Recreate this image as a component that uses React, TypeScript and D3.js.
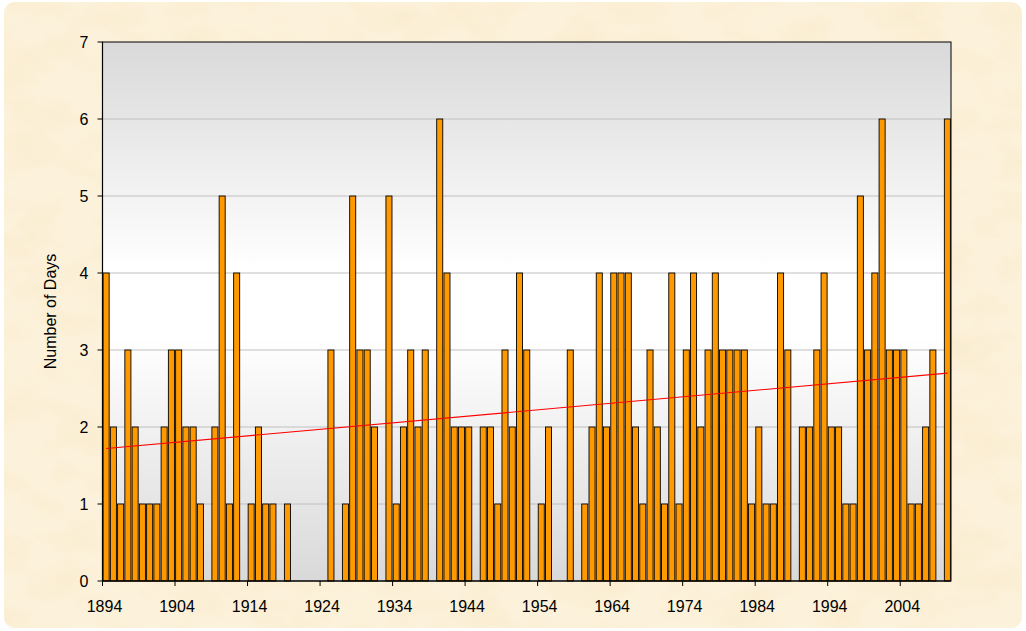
import React from "react";
import * as d3 from "d3";

const years: number[] = d3.range(1894, 2011);
const days: number[] = [
  // 1894-1903
  4, 2, 1, 3, 2, 1, 1, 1, 2, 3,
  // 1904-1913
  3, 2, 2, 1, 0, 2, 5, 1, 4, 0,
  // 1914-1923
  1, 2, 1, 1, 0, 1, 0, 0, 0, 0,
  // 1924-1933
  0, 3, 0, 1, 5, 3, 3, 2, 0, 5,
  // 1934-1943
  1, 2, 3, 2, 3, 0, 6, 4, 2, 2,
  // 1944-1953
  2, 0, 2, 2, 1, 3, 2, 4, 3, 0,
  // 1954-1963
  1, 2, 0, 0, 3, 0, 1, 2, 4, 2,
  // 1964-1973
  4, 4, 4, 2, 1, 3, 2, 1, 4, 1,
  // 1974-1983
  3, 4, 2, 3, 4, 3, 3, 3, 3, 1,
  // 1984-1993
  2, 1, 1, 4, 3, 0, 2, 2, 3, 4,
  // 1994-2003
  2, 2, 1, 1, 5, 3, 4, 6, 3, 3,
  // 2004-2010
  3, 1, 1, 2, 3, 0, 6,
];
// linear trend line, value at first and last year
const trendYears: number[] = [1894, 2010];
const trendValues: number[] = [1.72, 2.7];
const yTicks: number[] = [0, 1, 2, 3, 4, 5, 6, 7];
const xTickYears: number[] = d3.range(1894, 2011, 10);
const yTitle = "Number of Days";

const W = 1026;
const H = 631;
const L = 102.5;
const R = 951;
const T = 42;
const B = 581;

export default function App() {
  const pad = 1 - 1 / 1.2;
  const x = d3
    .scaleBand<number>()
    .domain(years)
    .range([L, R])
    .paddingInner(pad)
    .paddingOuter(pad / 2);
  const y = d3.scaleLinear().domain([0, 7]).range([B, T]);
  const step = x.step();
  const catStart = (yr: number) => (x(yr) as number) - (step * pad) / 2;

  const trend = d3
    .line<number>()
    .x((i) => (x(trendYears[i]) as number) + x.bandwidth() / 2)
    .y((i) => y(trendValues[i]));

  const font = "Arial, 'Liberation Sans', Helvetica, sans-serif";

  return (
    <svg
      width={W}
      height={H}
      style={{ position: "absolute", left: 0, top: 0, display: "block" }}
      fontFamily={font}
    >
      <defs>
        <linearGradient id="plotbg" x1="0" y1="0" x2="0" y2="1">
          <stop offset="0%" stopColor="#d9d9d9" />
          <stop offset="42%" stopColor="#ffffff" />
          <stop offset="55%" stopColor="#ffffff" />
          <stop offset="100%" stopColor="#d9d9d9" />
        </linearGradient>
        <filter id="parch" x="0" y="0" width="100%" height="100%">
          <feTurbulence
            type="fractalNoise"
            baseFrequency="0.018 0.03"
            numOctaves={4}
            seed={7}
            result="noise"
          />
          <feColorMatrix
            in="noise"
            type="matrix"
            values="0 0 0 0 0.95  0 0 0 0 0.84  0 0 0 0 0.62  2.4 0 0 0 -1.0"
            result="tint"
          />
          <feComposite in="tint" in2="SourceGraphic" operator="in" />
        </filter>
        <clipPath id="plotclip">
          <rect x={L} y={T} width={R - L} height={B - T} />
        </clipPath>
      </defs>

      <rect x={0} y={0} width={W} height={H} fill="#ffffff" />
      <rect x={4} y={2} width={W - 8} height={H - 5} rx={11} fill="#fcf1da" />
      <rect
        x={4}
        y={2}
        width={W - 8}
        height={H - 5}
        rx={11}
        fill="#000"
        filter="url(#parch)"
        opacity={0.75}
      />

      {/* plot area */}
      <rect x={L} y={T} width={R - L} height={B - T} fill="url(#plotbg)" />
      {yTicks
        .filter((t) => t > 0 && t < 7)
        .map((t) => (
          <line
            key={"g" + t}
            x1={L}
            x2={R}
            y1={y(t)}
            y2={y(t)}
            stroke="#c0c0c0"
            strokeWidth={1}
          />
        ))}

      {/* bars */}
      <g>
        {years.map((yr, i) =>
          days[i] > 0 ? (
            <rect
              key={yr}
              x={x(yr)}
              y={y(days[i])}
              width={x.bandwidth()}
              height={y(0) - y(days[i])}
              fill="#ff9900"
              stroke="#000"
              strokeWidth={0.9}
            />
          ) : null
        )}
      </g>

      {/* trend line */}
      <path
        d={trend([0, 1]) as string}
        stroke="#ff0000"
        strokeWidth={1.1}
        fill="none"
        clipPath="url(#plotclip)"
      />

      {/* plot border */}
      <rect
        x={L}
        y={T}
        width={R - L}
        height={B - T}
        fill="none"
        stroke="#000"
        strokeWidth={1}
      />

      {/* y axis */}
      <line x1={L} x2={L} y1={T} y2={B} stroke="#000" strokeWidth={1.2} />
      {yTicks.map((t) => (
        <g key={"y" + t}>
          <line x1={L - 5} x2={L} y1={y(t)} y2={y(t)} stroke="#000" />
          <text
            x={L - 14}
            y={y(t)}
            dy="0.36em"
            textAnchor="end"
            fontSize={16}
            fill="#000"
          >
            {t}
          </text>
        </g>
      ))}
      <text
        transform={`translate(56, ${(T + B) / 2}) rotate(-90)`}
        textAnchor="middle"
        fontSize={16}
        fill="#000"
      >
        {yTitle}
      </text>

      {/* x axis */}
      <line x1={L} x2={R} y1={B} y2={B} stroke="#000" strokeWidth={1.2} />
      {xTickYears.map((yr) => (
        <g key={"x" + yr}>
          <line
            x1={catStart(yr)}
            x2={catStart(yr)}
            y1={B}
            y2={B + 5}
            stroke="#000"
          />
          <text
            x={catStart(yr) + 2}
            y={B + 31}
            textAnchor="middle"
            fontSize={16}
            fill="#000"
          >
            {yr}
          </text>
        </g>
      ))}
    </svg>
  );
}
